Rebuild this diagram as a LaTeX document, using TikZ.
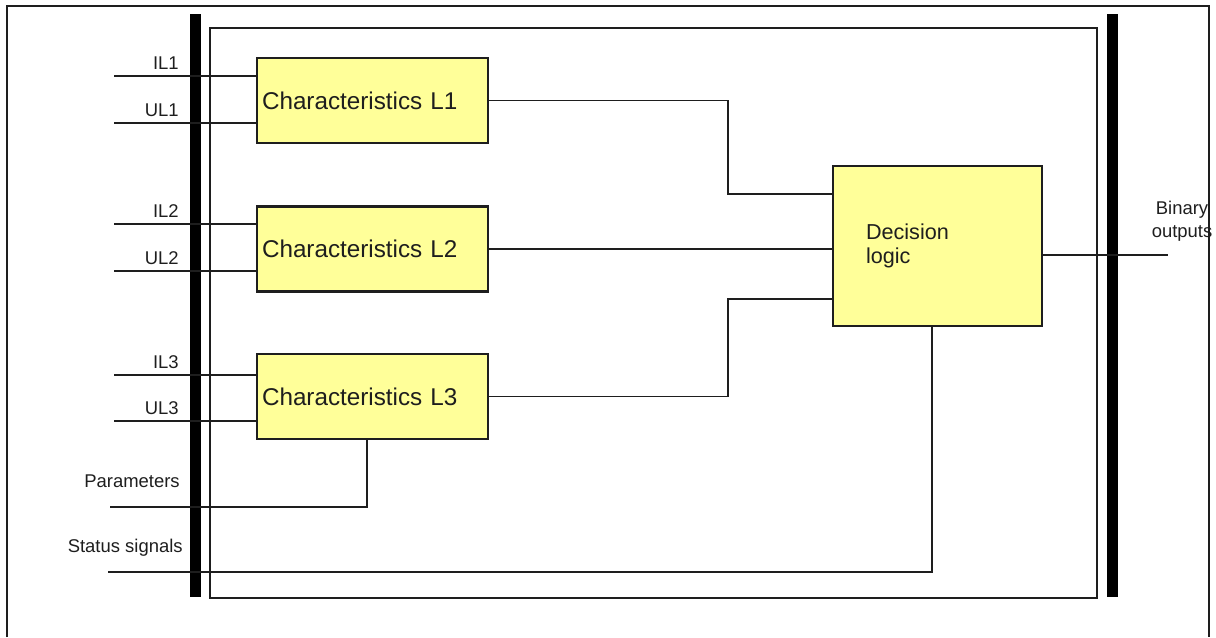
\documentclass[tikz,border=0pt]{standalone}
\usepackage{fontspec}
\setmainfont{Liberation Sans}
\usetikzlibrary{positioning}
\definecolor{ink}{HTML}{1E1E1E}
\definecolor{blockfill}{HTML}{FFFF99}

\begin{document}
\begin{tikzpicture}[
  x=0.02cm, y=-0.02cm,
  font=\fontsize{10.5}{13}\selectfont, text=ink,
  wire/.style={draw=ink,line width=1pt},
  frame/.style={draw=ink,line width=1.2pt},
  bus/.style={fill=black},
  block/.style={draw=ink,fill=blockfill,line width=1.3pt,align=left,inner ysep=0pt},
  charbox/.style={block,text width=4.42cm,inner xsep=0.1cm,minimum height=1.7cm,
    font=\fontsize{13.8}{16}\selectfont},
  sig/.style={anchor=base east,inner sep=0pt}
]
\useasboundingbox (0,0) rectangle (1216,637);
% Outer sheet frame and the function block with its two bus bars.
\draw[frame] (7,637) -- (7,6) -- (1209,6) -- (1209,637);
\draw[wire] (210,28) rectangle (1097,598);
\fill[bus] (190,14) rectangle (201,597);
\fill[bus] (1107,14) rectangle (1118,597);
% Phase characteristics and the decision logic.
\node[charbox] (char1) at (372.5,100.5) {Characteristics L1};
\node[charbox] (char2) at (372.5,249) {Characteristics L2};
\node[charbox] (char3) at (372.5,396.5) {Characteristics L3};
\node[block,text width=2.86cm,inner xsep=0.66cm,minimum height=3.2cm,
  font=\fontsize{12.3}{14}\selectfont] (logic) at (937.5,246) {Decision\\logic};
% Measured inputs.
\foreach \sig/\blk/\txt/\y in {il1/char1/IL1/76,ul1/char1/UL1/123,il2/char2/IL2/224,
    ul2/char2/UL2/271,il3/char3/IL3/375,ul3/char3/UL3/421} {
  \coordinate (\sig) at (114,\y);
  \draw[wire] (\sig) -- (\sig -| \blk.west);
  \node[sig] (\sig label) at (179,\y-6.5) {\txt};
}
% Parameters and status signals.
\coordinate (par) at (110,507);
\coordinate (parbend) at (367,507);
\draw[wire] (par) -- (parbend) -- (parbend |- char3.south);
\node[sig] (parlabel) at (180,487) {Parameters};
\coordinate (stat) at (108,572);
\coordinate (statbend) at (932,572);
\draw[wire] (stat) -- (statbend) -- (statbend |- logic.south);
\node[sig] (statlabel) at (183,552) {Status signals};
% Characteristics into the decision logic.
\coordinate (bend1) at (728,194);
\coordinate (bend3) at (728,299);
\draw[wire] (char1.east) -| (bend1) -- (bend1 -| logic.west);
\draw[wire] (char2.east) -- (char2.east -| logic.west);
\draw[wire] (char3.east) -| (bend3) -- (bend3 -| logic.west);
% Binary outputs.
\coordinate (binout) at (1168,255);
\draw[wire] (binout -| logic.east) -- (binout);
\node[align=center,inner sep=0pt,font=\fontsize{10.5}{13}\selectfont]
  (outlabel) at (1182,221) {Binary\\outputs};
\end{tikzpicture}
\end{document}
